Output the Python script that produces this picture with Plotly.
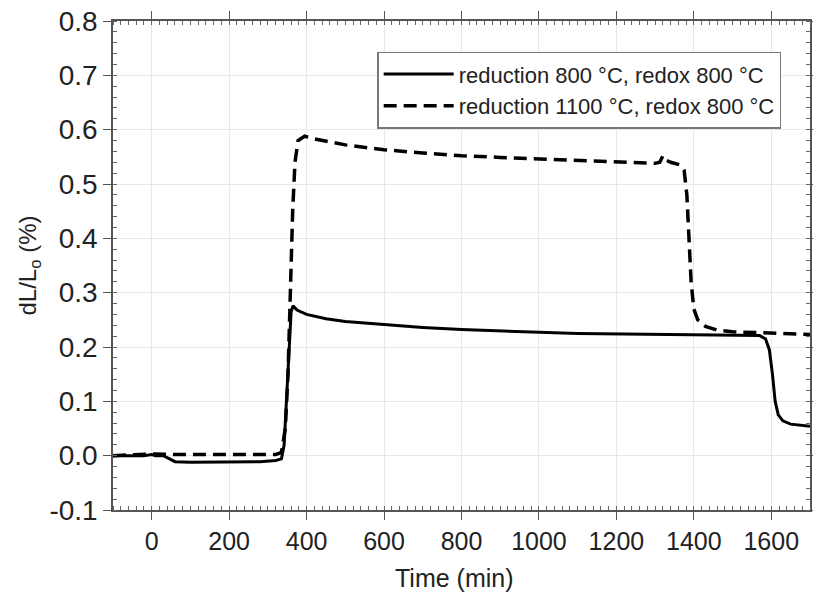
import plotly.graph_objects as go

# Solid: reduction 800 °C, redox 800 °C
t_solid = [-100, -20, 0, 10, 30, 45, 60, 100, 200, 280, 320, 335, 342, 348, 354, 360, 365, 375,
           400, 450, 500, 600, 700, 800, 900, 1000, 1100, 1200, 1300, 1400, 1500, 1570, 1585,
           1595, 1603, 1610, 1618, 1630, 1650, 1700]
v_solid = [0.0, 0.0, 0.002, 0.0, 0.0, -0.006, -0.011, -0.012, -0.012, -0.011, -0.009, -0.006,
           0.02, 0.1, 0.2, 0.265, 0.276, 0.268, 0.26, 0.252, 0.247, 0.241, 0.236, 0.232, 0.229,
           0.227, 0.225, 0.224, 0.223, 0.222, 0.222, 0.221, 0.215, 0.195, 0.15, 0.1, 0.075,
           0.064, 0.058, 0.054]

# Dashed: reduction 1100 °C, redox 800 °C
t_dash = [-100, 0, 60, 200, 320, 335, 345, 352, 358, 364, 370, 378, 395, 420, 500, 600, 700, 800,
          900, 1000, 1100, 1200, 1300, 1312, 1320, 1325, 1340, 1365, 1375, 1382, 1388, 1393, 1400,
          1410, 1430, 1460, 1500, 1600, 1700]
v_dash = [0.0, 0.003, 0.002, 0.002, 0.002, 0.006, 0.05, 0.15, 0.3, 0.45, 0.54, 0.58, 0.588, 0.583,
          0.572, 0.563, 0.557, 0.552, 0.549, 0.546, 0.543, 0.540, 0.538, 0.540, 0.552, 0.545,
          0.540, 0.535, 0.525, 0.48, 0.4, 0.32, 0.27, 0.25, 0.238, 0.231, 0.228, 0.225, 0.223]

names = ["reduction 800 \u00b0C, redox 800 \u00b0C", "reduction 1100 \u00b0C, redox 800 \u00b0C"]

x_ticks = [0, 200, 400, 600, 800, 1000, 1200, 1400, 1600]
x_labels = ["0", "200", "400", "600", "800", "1000", "1200", "1400", "1600"]
y_ticks = [-0.1, 0.0, 0.1, 0.2, 0.3, 0.4, 0.5, 0.6, 0.7, 0.8]
y_labels = ["-0.1", "0.0", "0.1", "0.2", "0.3", "0.4", "0.5", "0.6", "0.7", "0.8"]

fig = go.Figure()
fig.add_trace(go.Scatter(x=t_solid, y=v_solid, mode="lines", name=names[0],
                         line=dict(color="black", width=3)))
fig.add_trace(go.Scatter(x=t_dash, y=v_dash, mode="lines", name=names[1],
                         line=dict(color="black", width=3.5, dash="13px,7px")))

font = "Liberation Sans, Arial, sans-serif"
axis_common = dict(showline=True, linecolor="#555", linewidth=1.5, mirror="allticks",
                   ticks="outside", ticklen=8, tickcolor="#555", tickwidth=1.2,
                   showgrid=True, gridcolor="#e8e8e8", gridwidth=1, zeroline=False,
                   automargin=False)

fig.update_xaxes(range=[-100, 1700], tickvals=x_ticks, ticktext=x_labels,
                 tickfont=dict(family=font, size=25, color="#222"),
                 minor=dict(dtick=20, ticks="inside", ticklen=4, tickcolor="#666", showgrid=False),
                 **axis_common)
fig.update_yaxes(range=[-0.1, 0.8], tickvals=y_ticks, ticktext=y_labels,
                 tickfont=dict(family=font, size=28, color="#222"),
                 minor=dict(dtick=0.02, ticks="inside", ticklen=4, tickcolor="#666", showgrid=False),
                 title=dict(text="dL/L<sub>o</sub> (%)", font=dict(family=font, size=24, color="#222"), standoff=6),
                 **axis_common)

fig.add_annotation(text="Time (min)", xref="paper", yref="paper", x=0.49, y=-0.139,
                   xanchor="center", yanchor="middle", showarrow=False,
                   font=dict(family=font, size=25, color="#222"))

fig.update_layout(
    width=813, height=595,
    margin=dict(l=113, r=3, t=21, b=85),
    paper_bgcolor="white", plot_bgcolor="white",
    showlegend=True,
    legend=dict(x=0.379, y=0.937, xanchor="left", yanchor="top",
                bgcolor="white", bordercolor="#777", borderwidth=1.5,
                font=dict(family=font, size=22, color="#222"),
                tracegroupgap=0, itemwidth=70),
)

fig.write_html("out.html")
